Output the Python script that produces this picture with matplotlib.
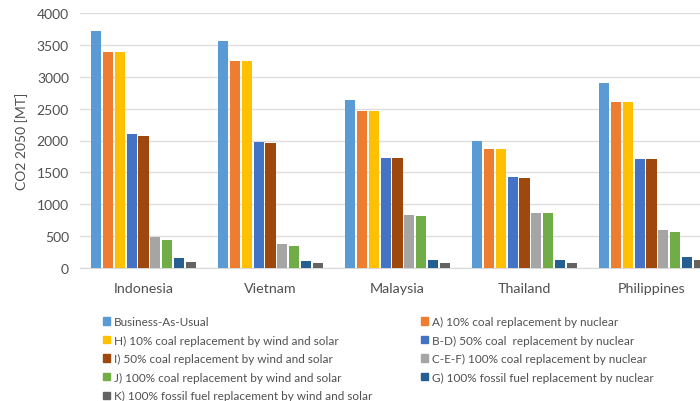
import numpy as np
import matplotlib
matplotlib.use("Agg")
import matplotlib.pyplot as plt
from matplotlib.patches import Patch

# countries and scenarios
countries = ["Indonesia", "Vietnam", "Malaysia", "Thailand", "Philippines"]
scenarios = [
    "Business-As-Usual",
    "A) 10% coal replacement by nuclear",
    "H) 10% coal replacement by wind and solar",
    "B-D) 50% coal  replacement by nuclear",
    "I) 50% coal replacement by wind and solar",
    "C-E-F) 100% coal replacement by nuclear",
    "J) 100% coal replacement by wind and solar",
    "G) 100% fossil fuel replacement by nuclear",
    "K) 100% fossil fuel replacement by wind and solar",
]
colors = ["#5B9BD5", "#ED7D31", "#FFC000", "#4472C4", "#9E480E",
          "#A5A5A5", "#70AD47", "#255E91", "#636363"]

# CO2 in 2050 [MT], one list per scenario (Indonesia .. Philippines)
bau = [3710, 3560, 2640, 1985, 2900]
a_nuc10 = [3395, 3240, 2455, 1870, 2610]
h_ws10 = [3385, 3240, 2455, 1870, 2610]
bd_nuc50 = [2100, 1970, 1730, 1425, 1715]
i_ws50 = [2075, 1955, 1720, 1415, 1710]
cef_nuc100 = [480, 380, 825, 870, 600]
j_ws100 = [440, 350, 810, 855, 565]
g_fossil_nuc = [150, 115, 130, 130, 170]
k_fossil_ws = [90, 75, 85, 85, 120]

series = [bau, a_nuc10, h_ws10, bd_nuc50, i_ws50,
          cef_nuc100, j_ws100, g_fossil_nuc, k_fossil_ws]

plt.rcParams["font.family"] = ["Lato", "DejaVu Sans"]
txt = "#505050"

fig = plt.figure(figsize=(7, 4.02), dpi=100)
ax = fig.add_axes([80 / 700, 1 - 269 / 402, 635 / 700, 255 / 402])

x = np.arange(len(countries))
step = 0.0933
width = 0.079
for i, (vals, col) in enumerate(zip(series, colors)):
    ax.bar(x + (i - 4) * step, vals, width=width, color=col, zorder=3)

ax.set_xlim(-0.5, len(countries) - 0.5)
ax.set_ylim(0, 4000)
ax.set_yticks(range(0, 4001, 500))
ax.set_xticks(x)
ax.set_xticklabels(countries, fontsize=10.3, color=txt)
ax.tick_params(axis="y", labelsize=10, colors=txt, length=0, pad=8)
ax.tick_params(axis="x", length=0, pad=10)
ax.grid(axis="y", color="#E2DCDC", linewidth=1, zorder=0)
for s in ["top", "right", "left"]:
    ax.spines[s].set_visible(False)
ax.spines["bottom"].set_color("#D9D9D9")
ax.set_ylabel("CO2 2050 [MT]", fontsize=10, color=txt, labelpad=6)

handles = [Patch(color=c) for c in colors]
leg_kw = dict(loc="upper left", frameon=False, fontsize=8.5,
              handlelength=0.6, handleheight=0.6, handletextpad=0.35,
              labelspacing=0.64, borderaxespad=0, borderpad=0,
              labelcolor=txt)
left_idx = [0, 2, 4, 6, 8]
right_idx = [1, 3, 5, 7]
fig.legend([handles[i] for i in left_idx], [scenarios[i] for i in left_idx],
           bbox_to_anchor=(103 / 700, 1 - 317 / 402), **leg_kw)
fig.legend([handles[i] for i in right_idx], [scenarios[i] for i in right_idx],
           bbox_to_anchor=(421 / 700, 1 - 317 / 402), **leg_kw)

fig.savefig("out.png", dpi=100)
